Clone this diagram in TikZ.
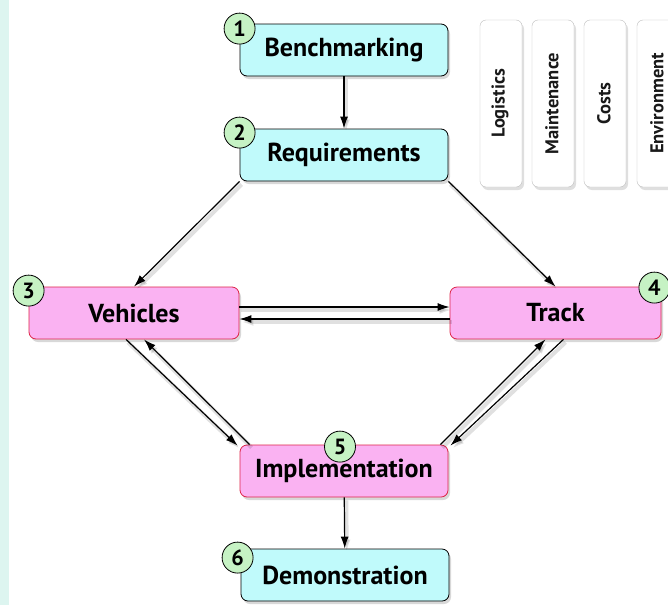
\documentclass[tikz,border=0pt]{standalone}
\usepackage{fontspec}
\setmainfont{PT Sans}
\usetikzlibrary{arrows.meta,shadows,positioning}

\definecolor{stepblue}{RGB}{192,250,251}
\definecolor{steppink}{RGB}{250,178,242}
\definecolor{stepred}{RGB}{222,36,72}
\definecolor{numgreen}{RGB}{198,242,196}
\definecolor{sidestrip}{RGB}{221,245,240}

\begin{document}
\begin{tikzpicture}[x=1pt,y=-1pt,
    box/.style={rounded corners=7pt, thick, minimum width=208pt, minimum height=52pt,
        font=\fontsize{26}{30}\selectfont\bfseries,
        drop shadow={shadow xshift=2pt, shadow yshift=-3pt, opacity=0.3}},
    bluebox/.style={box, fill=stepblue, draw=black},
    pinkbox/.style={box, fill=steppink, draw=stepred},
    num/.style={circle, draw=black, thick, fill=numgreen, minimum size=31pt, inner sep=0pt,
        font=\fontsize{22}{24}\selectfont\bfseries},
    panel/.style={rounded corners=6pt, draw=black!25, fill=white, minimum width=42pt, minimum height=167pt,
        drop shadow={shadow xshift=2pt, shadow yshift=-3pt, opacity=0.25}},
    flow/.style={-{Latex[length=12pt,width=8pt]}, line width=1.2pt,
        preaction={draw=black, opacity=0.12, line width=4pt, transform canvas={shift={(2pt,-3pt)}}}}
  ]
  \useasboundingbox (0,0) rectangle (668,605);
  \fill[white] (0,0) rectangle (668,605);
  \fill[sidestrip] (0,0) rectangle (9,605);

  % Steps
  \node[bluebox] (bench) at (344,50) {Benchmarking};
  \node[bluebox] (req) at (344,155) {Requirements};
  \node[pinkbox, minimum width=210pt] (veh) at (134,313) {Vehicles};
  \node[pinkbox, minimum width=211pt] (track) at (555.5,313) {Track};
  \node[pinkbox] (impl) at (344,471) {Implementation};
  \node[bluebox] (demo) at (345,575) {Demonstration};

  % Step numbers
  \node[num] (n1) at ([yshift=-5pt]bench.north west) {1};
  \node[num] (n2) at ([yshift=-4pt]req.north west) {2};
  \node[num] (n3) at ([yshift=-4pt]veh.north west) {3};
  \node[num] (n4) at ([xshift=-7pt,yshift=-1pt]track.north east) {4};
  \node[num] (n5) at ([xshift=-4pt,yshift=-2pt]impl.north) {5};
  \node[num] (n6) at ([xshift=-3pt,yshift=-9pt]demo.north west) {6};

  % Side panels
  \foreach \name/\x in {Logistics/501, Maintenance/553, Costs/605, Environment/658}
  {
      \node[panel] (\name) at (\x,103.5) {};
      \node[rotate=90, font=\fontsize{18.5}{20}\selectfont\bfseries, text=black!90, inner sep=1pt]
          at ([xshift=-1pt]\name) {\name};
  }

  % Connections
  \draw[flow] (bench) -- (req);
  \draw[flow] (req.south west) -- (veh.north);
  \draw[flow] (req.south east) -- (track.north);
  \draw[flow] ([yshift=6pt]veh.east) -- ([yshift=6pt]track.west);
  \draw[flow] ([yshift=-6pt]track.west) -- ([yshift=-6pt]veh.east);
  \draw[flow] ([xshift=-8pt]veh.south) -- ([xshift=-2pt,yshift=-1pt]impl.north west);
  \draw[flow] ([xshift=10pt]impl.north west) -- ([xshift=10pt]veh.south);
  \draw[flow] ([xshift=-8pt]impl.north east) -- ([xshift=-10pt]track.south);
  \draw[flow] ([xshift=8pt]track.south) -- ([xshift=2pt,yshift=-1pt]impl.north east);
  \draw[flow] (impl) -- (demo);
\end{tikzpicture}
\end{document}
